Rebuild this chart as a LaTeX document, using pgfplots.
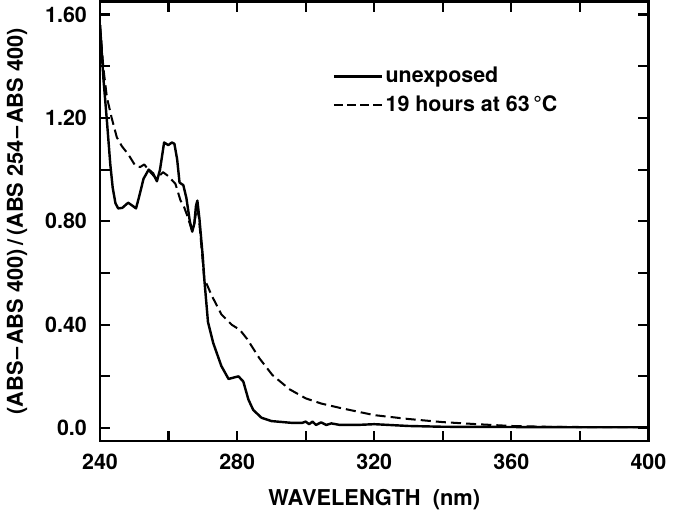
\documentclass[border=0pt]{standalone}
\usepackage{fontspec}
\setmainfont{TeX Gyre Heros}
\usepackage{pgfplots}
\pgfplotsset{compat=1.18}

\begin{document}
\begin{tikzpicture}
\begin{axis}[
    scale only axis,
    width=271.5pt, height=217.5pt,
    xmin=240, xmax=400,
    ymin=-0.05, ymax=1.65,
    axis line style={line width=1.4pt},
    tick style={line width=1.1pt, black},
    tick align=inside,
    major tick length=5pt, minor tick length=5pt,
    xtick={240,280,...,400},
    minor xtick={260,300,...,380},
    ytick={0,0.4,0.8,1.2,1.6},
    yticklabels={0.0,0.40,0.80,1.20,1.60},
    minor ytick={0.2,0.6,1.0,1.4},
    /pgf/number format/assume math mode=true,
    ticklabel style={font=\bfseries\fontsize{10.6}{12}\selectfont},
    xticklabel style={yshift=-3pt},
    yticklabel style={xshift=-3pt},
    xlabel={\bfseries WAVELENGTH\ \ (nm)},
    ylabel={\bfseries (ABS\kern1pt--\kern1ptABS 400)\,/\,(ABS 254\kern1pt--\kern1ptABS 400)},
    label style={font=\bfseries\fontsize{10.8}{12}\selectfont},
    xlabel style={yshift=-3pt},
    ylabel style={yshift=2pt},
    legend cell align=left,
    legend style={draw=none, fill=none, at={(axis cs:306,1.43)}, anchor=north west,
        font=\bfseries\fontsize{10.6}{12}\selectfont, row sep=1pt,
        nodes={inner xsep=1pt},
        /tikz/every even column/.append style={column sep=0pt}},
    legend image code/.code={\draw[#1] (0pt,0pt) -- (24pt,0pt);},
]

% unexposed
\addplot[black, line width=1.2pt, line join=round] coordinates {
(240.0,1.56) (241.0,1.35) (242.0,1.19) (243.0,1.02) (243.7,0.93) (244.5,0.87)
(245.3,0.85) (246.5,0.852) (248.2,0.872) (249.5,0.86) (250.5,0.85) (251.5,0.90)
(252.7,0.965) (254.2,1.00) (255.5,0.985) (256.6,0.955) (257.5,1.00) (258.7,1.105)
(259.9,1.095) (261.0,1.105) (261.7,1.10) (262.5,1.04) (263.2,0.95) (264.3,0.94)
(265.2,0.89) (266.2,0.80) (266.9,0.76) (267.5,0.79) (268.0,0.86) (268.4,0.88)
(269.0,0.81) (270.0,0.66) (270.4,0.58) (271.5,0.41) (273.0,0.33) (275.4,0.24)
(277.5,0.19) (278.9,0.195) (280.4,0.20) (281.8,0.18) (283.3,0.11) (284.7,0.07)
(287.1,0.04) (290,0.027) (296,0.02) (299,0.02) (300,0.025) (301,0.015)
(302,0.025) (303,0.012) (304.5,0.022) (306,0.012) (307.5,0.018) (310,0.012)
(315,0.012) (320,0.015) (330,0.008) (340,0.005) (360,0.004) (380,0.003) (400,0.003)
};
\addlegendentry{unexposed}

% 19 hours at 63 C
\addplot[black, line width=1.0pt, dash pattern=on 5pt off 2.5pt, line join=round,
    legend image code/.code={\draw[black, line width=1.0pt, dash pattern=on 4.6pt off 1.9pt] (0pt,0pt) -- (24pt,0pt);}] coordinates {
(240,1.56) (241,1.39) (242,1.28) (243.4,1.20) (244.9,1.125) (246.4,1.09)
(248.2,1.06) (250.3,1.015) (251.7,1.01) (252.9,1.02) (254.7,0.99) (256.4,0.965)
(258.4,0.99) (259.9,0.975) (262,0.945) (263.5,0.88) (264.4,0.86) (265.5,0.82)
(266.7,0.77) (267.5,0.79) (268.2,0.85) (268.8,0.82) (270.0,0.64) (270.4,0.58)
(272.5,0.515) (275.4,0.44) (278.4,0.40) (280.8,0.38) (282.9,0.345) (286.5,0.27)
(290.3,0.205) (295.3,0.15) (300,0.115) (304.5,0.095) (310,0.078) (320,0.05)
(330,0.035) (340,0.023) (350,0.015) (360,0.008) (370,0.005) (380,0.004) (400,0.003)
};
\addlegendentry{19 hours at 63\,°C}

\end{axis}
\end{tikzpicture}
\end{document}
